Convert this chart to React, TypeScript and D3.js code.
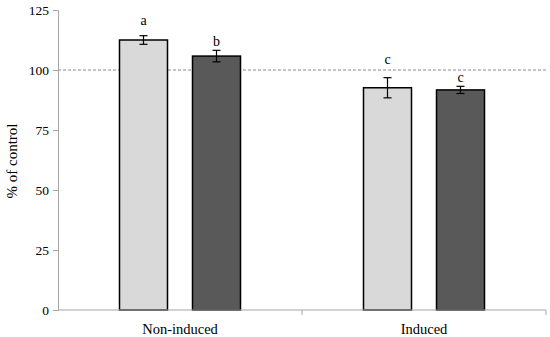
import { useRef, useEffect } from 'react'
import * as d3 from 'd3'

const categories = ['Non-induced', 'Induced']
const series = ['light', 'dark']
const valuesLight = [112.5, 92.6]
const valuesDark = [105.8, 91.7]
const errLight = [1.8, 4.2]
const errDark = [2.4, 1.5]
const lettersLight = ['a', 'c']
const lettersDark = ['b', 'c']
// value at which each significance letter sits
const letterAtLight = [118.6, 102.7]
const letterAtDark = [109.9, 95.1]
const yTicks = [0, 25, 50, 75, 100, 125]

const colors = ['#d9d9d9', '#595959']
const font = '"Liberation Serif", serif'

const App = () => {
  const ref = useRef<SVGSVGElement>(null)

  useEffect(() => {
    if (!ref.current) return
    const width = 550
    const height = 337
    const left = 58
    const right = 546
    const top = 10
    const bottom = 310

    const svg = d3.select(ref.current)
    svg.selectAll('*').remove()
    svg.attr('width', width).attr('height', height)

    const x = d3.scaleBand<string>().domain(categories).range([left, right]).padding(0)
    const xs = d3
      .scaleBand<string>()
      .domain(series)
      .range([61.5, x.bandwidth() - 61.5])
      .paddingInner(25 / 73)
    const y = d3.scaleLinear().domain([0, 125]).range([bottom, top])

    // reference line at 100
    svg
      .append('line')
      .attr('x1', left)
      .attr('x2', right)
      .attr('y1', y(100))
      .attr('y2', y(100))
      .attr('stroke', '#8c8c8c')
      .attr('stroke-width', 1)
      .attr('stroke-dasharray', '3,2')

    const yAxis = svg
      .append('g')
      .attr('transform', `translate(${left},0)`)
      .call(d3.axisLeft(y).tickValues(yTicks).tickSize(5).tickPadding(4))
    yAxis.select('.domain').attr('stroke', '#a6a6a6')
    yAxis.selectAll('.tick line').attr('stroke', '#a6a6a6')
    yAxis
      .selectAll('.tick text')
      .attr('font-family', font)
      .attr('font-size', 13.5)
      .attr('fill', '#000')

    const rows = categories.map((c, i) => ({
      c,
      bars: [
        { s: 'light', v: valuesLight[i], e: errLight[i], l: lettersLight[i], ly: letterAtLight[i], col: colors[0] },
        { s: 'dark', v: valuesDark[i], e: errDark[i], l: lettersDark[i], ly: letterAtDark[i], col: colors[1] },
      ],
    }))

    const g = svg
      .selectAll('g.grp')
      .data(rows)
      .enter()
      .append('g')
      .attr('class', 'grp')
      .attr('transform', (d) => `translate(${x(d.c)},0)`)

    const b = g
      .selectAll('g.bar')
      .data((d) => d.bars)
      .enter()
      .append('g')
      .attr('class', 'bar')

    b.append('rect')
      .attr('x', (d) => xs(d.s)!)
      .attr('width', xs.bandwidth())
      .attr('y', (d) => y(d.v))
      .attr('height', (d) => y(0) - y(d.v))
      .attr('fill', (d) => d.col)
      .attr('stroke', '#000')
      .attr('stroke-width', 1.5)

    const cx = (d: any) => xs(d.s)! + xs.bandwidth() / 2
    b.append('line')
      .attr('x1', cx)
      .attr('x2', cx)
      .attr('y1', (d) => y(d.v + d.e))
      .attr('y2', (d) => y(d.v - d.e))
      .attr('stroke', '#000')
      .attr('stroke-width', 1.2)
    b.selectAll('line.cap')
      .data((d) => [
        { d, v: d.v + d.e },
        { d, v: d.v - d.e },
      ])
      .enter()
      .append('line')
      .attr('class', 'cap')
      .attr('x1', (p) => cx(p.d) - 4)
      .attr('x2', (p) => cx(p.d) + 4)
      .attr('y1', (p) => y(p.v))
      .attr('y2', (p) => y(p.v))
      .attr('stroke', '#000')
      .attr('stroke-width', 1.2)

    b.append('text')
      .attr('x', cx)
      .attr('y', (d) => y(d.ly))
      .attr('text-anchor', 'middle')
      .attr('font-family', font)
      .attr('font-size', 14)
      .text((d) => d.l)

    const xAxis = svg
      .append('g')
      .attr('transform', `translate(0,${bottom})`)
      .call(
        d3
          .axisBottom(x)
          .tickSize(0)
          .tickPadding(14)
      )
    xAxis.select('.domain').attr('stroke', '#a6a6a6').attr('d', `M${left},0H${right}`)
    xAxis
      .selectAll('.tick text')
      .attr('font-family', font)
      .attr('font-size', 14.5)
      .attr('fill', '#000')
    // category separators
    xAxis
      .selectAll('line.sep')
      .data(categories)
      .enter()
      .append('line')
      .attr('class', 'sep')
      .attr('x1', (c) => x(c)! + x.bandwidth())
      .attr('x2', (c) => x(c)! + x.bandwidth())
      .attr('y1', 0)
      .attr('y2', 5)
      .attr('stroke', '#a6a6a6')

    svg
      .append('text')
      .attr('transform', `translate(17,${(top + bottom) / 2 + 1}) rotate(-90)`)
      .attr('text-anchor', 'middle')
      .attr('font-family', font)
      .attr('font-size', 15)
      .text('% of control')
  }, [])

  return (
    <div style={{ position: 'absolute', left: 0, top: 0 }}>
      <svg ref={ref} style={{ display: 'block' }} />
    </div>
  )
}

export default App
